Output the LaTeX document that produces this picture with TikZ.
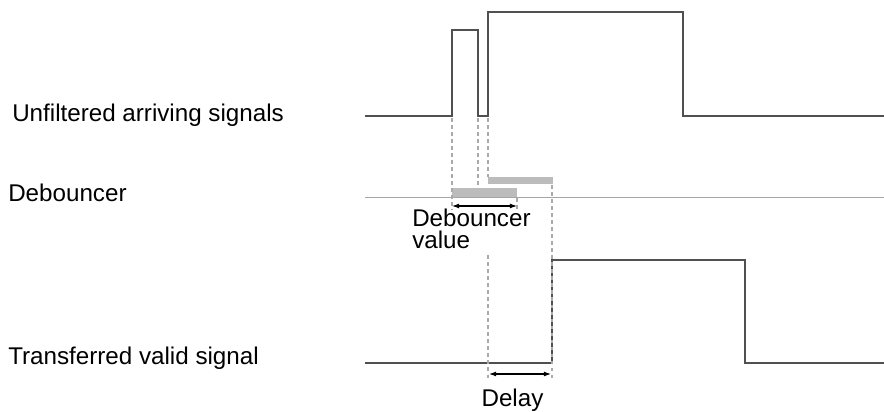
\documentclass[tikz,border=0pt]{standalone}
\usepackage{fontspec}
\setmainfont{Liberation Sans}
\usepackage{xcolor}
\definecolor{sigc}          {RGB}{80, 80, 80}
\definecolor{guidec}        {RGB}{170, 170, 170}
\definecolor{barc}          {RGB}{188, 188, 188}
\usetikzlibrary{arrows.meta}

\begin{document}
\begin{tikzpicture}[x=0.025cm, y=-0.025cm,
		every node/.style={font=\fontsize{17.2}{15.8}\selectfont, inner sep=0pt, align=left},
		signal/.style={draw=sigc, line width=1.5pt},
		guide/.style={draw=guidec, line width=1.4pt, dash pattern=on 2.5pt off 2.5pt},
		span/.style={{Latex[length=5pt,width=3.5pt]}-{Latex[length=5pt,width=3.5pt]}, line width=0.8pt}]
		\useasboundingbox (0,0) rectangle (884,412);
		% labels
		\node[anchor=base west] (unf) at (12,122) {Unfiltered arriving signals};
		\node[anchor=base west] (deb) at (8,202) {Debouncer};
		\node[anchor=base west] (trf) at (8,365) {Transferred valid signal};
		% arriving signal and debouncer line
		\draw[signal] (365,116) -- (452,116) -- (452,30) -- (478,30) -- (478,116) -- (488,116) -- (488,12) -- (683,12) -- (683,116) -- (884,116);
		\draw[draw=gray!70, line width=0.6pt] (365,197) -- (884,197);
		\fill[barc] (452,188) rectangle (517,197);
		\fill[barc] (488,177) rectangle (553,184);
		% valid signal
		\draw[signal] (365,363) -- (552,363) -- (552,260) -- (745,260) -- (745,363) -- (884,363);
		% guides
		\draw[guide] (452,118) -- (452,210);
		\draw[guide] (478,118) -- (478,188);
		\draw[guide] (488,118) -- (488,177);
		\draw[guide] (488,255) -- (488,378);
		\draw[guide] (517,198) -- (517,210);
		\draw[guide] (552,185) -- (552,378);
		% spans
		\coordinate (dvl) at (452,206);
		\coordinate (dvr) at (517,206);
		\draw[span] (dvl) -- (dvr);
		\node[anchor=base west] (dval) at (412,249) {Debouncer\\value};
		\coordinate (dll) at (489,374);
		\coordinate (dlr) at (551,374);
		\draw[span] (dll) -- (dlr);
		\node[anchor=base] (dly) at (512.5,407) {Delay};
	\end{tikzpicture}
\end{document}
